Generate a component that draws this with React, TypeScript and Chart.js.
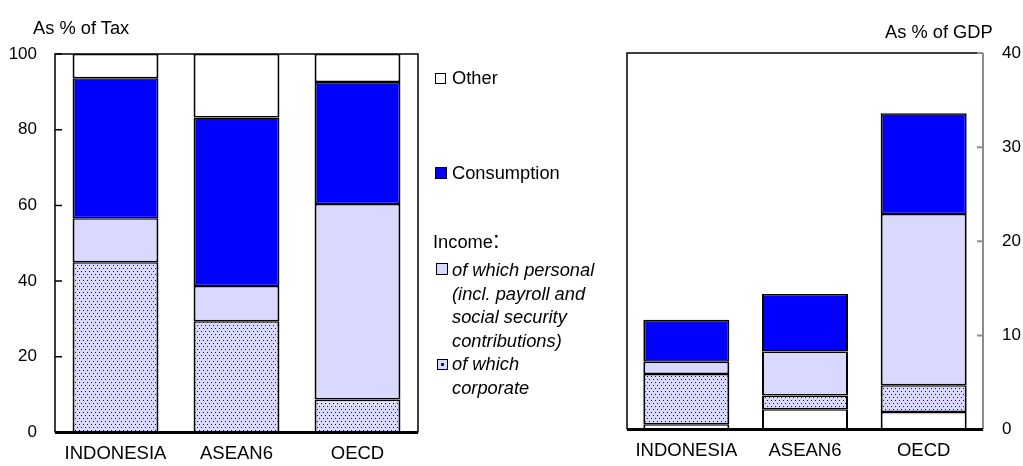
import React, { useEffect, useRef } from 'react';
import { Chart, registerables } from 'chart.js';

Chart.register(...registerables);

// ---------- data ----------
const categories = ['INDONESIA', 'ASEAN6', 'OECD'];

// Left panel: as % of total tax (stacked bottom-up: corporate, personal, consumption, other)
const taxCorporate = [45.0, 29.4, 8.7];
const taxPersonal = [11.6, 9.3, 51.7];
const taxConsumption = [37.0, 44.5, 32.2];
const taxOther = [6.4, 16.8, 7.4];
const taxTicks = [0, 20, 40, 60, 80, 100];

// Right panel: as % of GDP (stacked bottom-up: other, corporate, personal, consumption)
const gdpOther = [0.55, 2.15, 1.85];
const gdpCorporate = [5.35, 1.45, 2.85];
const gdpPersonal = [1.3, 4.7, 18.2];
const gdpConsumption = [4.45, 6.1, 10.7];
const gdpTicks = [0, 10, 20, 30, 40];

const leftTitle = 'As % of Tax';
const rightTitle = 'As % of GDP';
const legendOther = 'Other';
const legendConsumption = 'Consumption';
const legendIncome = 'Income';
const legendPersonal = ['of which personal', '(incl. payroll and', 'social security', 'contributions)'];
const legendCorporate = ['of which', 'corporate'];

// ---------- styles ----------
const FONT = "'Liberation Sans', Arial, sans-serif";
const BLUE = '#0000FF';
const LAVENDER = '#D9D9FF';
const FS_TICK = 17;
const FS_X = 18.5;
const FS_TEXT = 18.3;

function makeDots(): CanvasPattern | string {
  const c = document.createElement('canvas');
  c.width = 4;
  c.height = 6;
  const g = c.getContext('2d');
  if (!g) return LAVENDER;
  g.fillStyle = LAVENDER;
  g.fillRect(0, 0, 4, 6);
  g.fillStyle = '#1a1a1a';
  g.fillRect(1, 1, 1, 1);
  g.fillRect(3, 4, 1, 1);
  return g.createPattern(c, 'repeat') || LAVENDER;
}

function framePlugin(side: 'left' | 'right', ticks: number[]) {
  return {
    id: 'frame-' + side,
    afterDatasetsDraw(chart: any) {
      const { ctx, chartArea: a, scales } = chart;
      const ys = scales.y;
      ctx.save();
      ctx.lineCap = 'butt';
      ctx.strokeStyle = '#000';
      ctx.lineWidth = 1.5;
      ctx.beginPath();
      ctx.moveTo(a.left, a.bottom);
      ctx.lineTo(a.left, a.top);
      ctx.lineTo(a.right, a.top);
      if (side === 'left') ctx.lineTo(a.right, a.bottom);
      ctx.stroke();
      if (side === 'left') {
        ctx.beginPath();
        ticks.forEach((v) => {
          const y = ys.getPixelForValue(v);
          ctx.moveTo(a.left, y);
          ctx.lineTo(a.left + 7, y);
        });
        ctx.stroke();
      } else {
        ctx.strokeStyle = '#8c8c8c';
        ctx.lineWidth = 2;
        ctx.beginPath();
        ctx.moveTo(a.right, a.top);
        ctx.lineTo(a.right, a.bottom);
        ticks.forEach((v) => {
          const y = ys.getPixelForValue(v);
          ctx.moveTo(a.right - 6, y);
          ctx.lineTo(a.right, y);
        });
        ctx.stroke();
      }
      ctx.strokeStyle = '#000';
      ctx.lineWidth = 3;
      ctx.beginPath();
      const y0 = ys.getPixelForValue(0);
      ctx.moveTo(a.left, y0);
      ctx.lineTo(a.right, y0);
      ctx.stroke();
      ctx.restore();
    },
  };
}

function ds(label: string, data: number[], bg: any, barPct: number) {
  return {
    label,
    data,
    backgroundColor: bg,
    borderColor: '#000',
    borderWidth: { left: 2, right: 2, top: 1.5, bottom: 1.5 },
    borderSkipped: false,
    barPercentage: barPct,
    categoryPercentage: 1,
  };
}

function baseOptions(
  pad: any,
  yMin: number,
  yMax: number,
  ticks: number[],
  yPos: 'left' | 'right',
  yWidth: number,
  xHeight: number,
  yPad: number
): any {
  return {
    responsive: false,
    animation: false,
    devicePixelRatio: 1,
    layout: { padding: pad },
    plugins: { legend: { display: false }, tooltip: { enabled: false } },
    scales: {
      x: {
        stacked: true,
        grid: { display: false, drawTicks: false },
        border: { display: false },
        ticks: { color: '#000', font: { family: FONT, size: FS_X }, padding: 10, maxRotation: 0, autoSkip: false },
        afterFit: (s: any) => {
          s.height = xHeight;
        },
      },
      y: {
        stacked: true,
        position: yPos,
        min: yMin,
        max: yMax,
        afterBuildTicks: (s: any) => {
          s.ticks = ticks.map((v) => ({ value: v }));
        },
        grid: { display: false, drawTicks: false },
        border: { display: false },
        ticks: { color: '#000', font: { family: FONT, size: FS_TICK }, padding: yPad },
        afterFit: (s: any) => {
          s.width = yWidth;
        },
      },
    },
  };
}

const abs = (x: number, y: number, extra: any = {}): React.CSSProperties => ({
  position: 'absolute',
  left: x,
  top: y,
  fontFamily: FONT,
  fontSize: FS_TEXT,
  lineHeight: '22px',
  color: '#000',
  whiteSpace: 'nowrap',
  ...extra,
});

const box = (x: number, y: number, w: number, bg: string, extra: any = {}): React.CSSProperties => ({
  position: 'absolute',
  left: x,
  top: y,
  width: w,
  height: w,
  boxSizing: 'border-box',
  border: '1.5px solid #000',
  background: bg,
  ...extra,
});

export default function App() {
  const leftRef = useRef<HTMLCanvasElement>(null);
  const rightRef = useRef<HTMLCanvasElement>(null);

  useEffect(() => {
    const dots = makeDots();
    const left = new Chart(leftRef.current as HTMLCanvasElement, {
      type: 'bar',
      data: {
        labels: categories,
        datasets: [
          ds('of which corporate', taxCorporate, dots, 0.71),
          ds('of which personal', taxPersonal, LAVENDER, 0.71),
          ds('Consumption', taxConsumption, BLUE, 0.71),
          ds('Other', taxOther, '#FFFFFF', 0.71),
        ] as any,
      },
      options: baseOptions({ left: 0, top: 54, right: 605, bottom: 0 }, 0, 100, taxTicks, 'left', 55, 33.5, 18),
      plugins: [framePlugin('left', taxTicks)],
    });
    const right = new Chart(rightRef.current as HTMLCanvasElement, {
      type: 'bar',
      data: {
        labels: categories,
        datasets: [
          ds('Other', gdpOther, '#FFFFFF', 0.725),
          ds('of which corporate', gdpCorporate, dots, 0.725),
          ds('of which personal', gdpPersonal, LAVENDER, 0.725),
          ds('Consumption', gdpConsumption, BLUE, 0.725),
        ] as any,
      },
      options: baseOptions({ left: 627, top: 53, right: 0, bottom: 0 }, 0, 40, gdpTicks, 'right', 40, 36.5, 19),
      plugins: [framePlugin('right', gdpTicks)],
    });
    return () => {
      left.destroy();
      right.destroy();
    };
  }, []);

  const canvasStyle: React.CSSProperties = { position: 'absolute', left: 0, top: 0, width: 1023, height: 466 };

  return (
    <div style={{ position: 'absolute', left: 0, top: 0, width: 1023, height: 466, background: '#fff', overflow: 'hidden' }}>
      <canvas ref={leftRef} width={1023} height={466} style={canvasStyle} />
      <canvas ref={rightRef} width={1023} height={466} style={canvasStyle} />
      <div style={abs(33, 17)}>{leftTitle}</div>
      <div style={abs(885, 21)}>{rightTitle}</div>

      <div style={box(435, 73, 11, '#FFFFFF')} />
      <div style={abs(452, 67)}>{legendOther}</div>

      <div style={box(435, 167, 12, BLUE)} />
      <div style={abs(452, 162)}>{legendConsumption}</div>

      <div style={abs(433, 229)}>
        {legendIncome}
        <span style={{ fontSize: 24, lineHeight: '22px' }}>:</span>
      </div>

      <div style={box(436, 263, 12, LAVENDER)} />
      {legendPersonal.map((t, i) => (
        <div key={t} style={abs(452, 259 + i * 23.5, { fontStyle: 'italic' })}>
          {t}
        </div>
      ))}

      <div style={box(437, 359, 11, LAVENDER, { display: 'flex', alignItems: 'center', justifyContent: 'center' })}>
        <div style={{ width: 3, height: 3, background: '#222' }} />
      </div>
      {legendCorporate.map((t, i) => (
        <div key={t} style={abs(452, 353 + i * 23.5, { fontStyle: 'italic' })}>
          {t}
        </div>
      ))}
    </div>
  );
}
